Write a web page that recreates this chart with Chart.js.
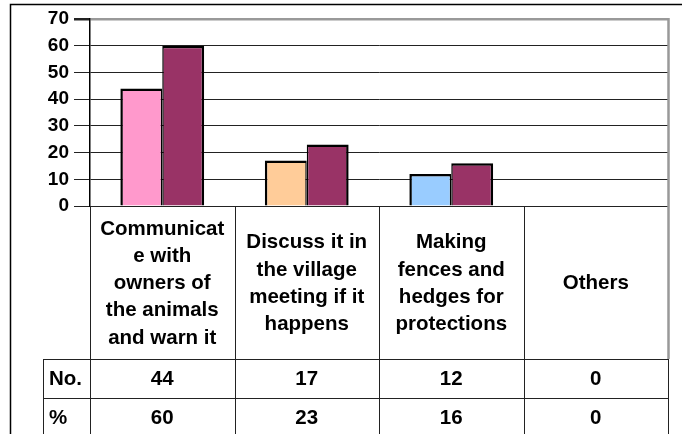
<!DOCTYPE html>
<html>
<head>
<meta charset="utf-8">
<script src="https://cdn.jsdelivr.net/npm/chart.js@4/dist/chart.umd.min.js"></script>
<style>
  html, body { margin: 0; padding: 0; background: #fff; }
  canvas { display: block; }
</style>
</head>
<body>
<canvas id="chart" width="682" height="434"></canvas>
<script>
// categories (each one split into the lines shown in its cell)
const categories = [
    ["Communicat", "e with", "owners of", "the animals", "and warn it"],
    ["Discuss it in", "the village", "meeting if it", "happens"],
    ["Making", "fences and", "hedges for", "protections"],
    ["Others"]
];
const rowNames = ["No.", "%"];
const countValues = [44, 17, 12, 0];
const percentValues = [60, 23, 16, 0];
const countColors = ["#FF99CC", "#FFCC99", "#99CCFF", "#CCFFCC"];
const percentColor = "#993366";
const yMax = 70;
const yStep = 10;

const FONT = "'Liberation Sans', Arial, sans-serif";

/* 下方資料表 + 外框 */
const tablePlugin = {
    id: "tablePlugin",
    afterDraw(chart) {
        const ctx = chart.ctx;
        const area = chart.chartArea;
        const n = categories.length;
        const w = (area.right - area.left) / n;
        const bottom = 434;
        const labelBottom = 359;
        const rowH = 39;
        const rowLeft = 43;

        ctx.save();
        // outer frame
        ctx.strokeStyle = "#000";
        ctx.lineWidth = 1.5;
        ctx.beginPath();
        ctx.moveTo(10.5, bottom);
        ctx.lineTo(10.5, 4.5);
        ctx.lineTo(682, 4.5);
        ctx.stroke();

        // right edge of plot (grey)
        ctx.strokeStyle = "#999";
        ctx.lineWidth = 2.5;
        ctx.beginPath();
        ctx.moveTo(area.right + 0.5, area.top - 1);
        ctx.lineTo(area.right + 0.5, labelBottom);
        ctx.stroke();

        // cell dividers
        ctx.strokeStyle = "#222";
        ctx.lineWidth = 1;
        for (let i = 0; i <= n; i++) {
            const x = Math.round(area.left + i * w) + 0.5;
            ctx.beginPath();
            ctx.moveTo(x, i === n ? labelBottom : area.bottom);
            ctx.lineTo(x, bottom);
            ctx.stroke();
        }
        ctx.beginPath();
        ctx.moveTo(rowLeft + 0.5, labelBottom);
        ctx.lineTo(rowLeft + 0.5, bottom);
        for (let r = 0; r < rowNames.length; r++) {
            const y = labelBottom + r * rowH + 0.5;
            ctx.moveTo(rowLeft, y);
            ctx.lineTo(area.right + 1, y);
        }
        ctx.stroke();

        // category labels
        ctx.fillStyle = "#000";
        ctx.font = "bold 20.5px " + FONT;
        ctx.textAlign = "center";
        ctx.textBaseline = "middle";
        const lineH = 27.3;
        const midY = (area.bottom + labelBottom) / 2 + 1;
        categories.forEach((lines, i) => {
            const cx = area.left + (i + 0.5) * w;
            const top = midY - (lines.length - 1) * lineH / 2;
            lines.forEach((t, j) => ctx.fillText(t, cx, top + j * lineH));
        });

        // rows
        const rows = [countValues, percentValues];
        ctx.font = "bold 20.5px " + FONT;
        rows.forEach((vals, r) => {
            const cy = labelBottom + r * rowH + rowH / 2 + 1;
            ctx.textAlign = "left";
            ctx.fillText(rowNames[r], rowLeft + 6, cy);
            ctx.textAlign = "center";
            vals.forEach((v, i) => {
                ctx.fillText(String(v), area.left + (i + 0.5) * w, cy);
            });
        });
        ctx.restore();
    }
};

const chart = new Chart(document.getElementById("chart"), {
    type: "bar",
    data: {
        labels: categories,
        datasets: [
            {
                label: "No.",
                data: countValues,
                backgroundColor: countColors,
                borderColor: "#000",
                borderWidth: { top: 2.5, left: 2.5, right: 1.5, bottom: 0 },
                categoryPercentage: 0.58,
                barPercentage: 1
            },
            {
                label: "%",
                data: percentValues,
                backgroundColor: percentColor,
                borderColor: "#000",
                borderWidth: { top: 2.5, left: 1.5, right: 2.5, bottom: 0 },
                categoryPercentage: 0.58,
                barPercentage: 1
            }
        ]
    },
    options: {
        responsive: false,
        animation: false,
        layout: { padding: { top: 19, right: 14, bottom: 228, left: 0 } },
        plugins: {
            legend: { display: false },
            tooltip: { enabled: false }
        },
        scales: {
            x: {
                afterFit: (scale) => { scale.height = 0; },
                grid: { display: false },
                border: { display: false },
                ticks: { display: false }
            },
            y: {
                min: 0,
                max: yMax,
                afterFit: (scale) => { scale.width = 90; },
                ticks: {
                    stepSize: yStep,
                    padding: 5,
                    color: "#000",
                    font: { family: FONT, size: 19, weight: "bold" }
                },
                grid: {
                    color: (c) => c.tick && c.tick.value === yMax ? "#999" : "#222",
                    lineWidth: (c) => c.tick && c.tick.value === yMax ? 2.5 : 1,
                    tickLength: 16,
                    tickColor: "#222"
                },
                border: { color: "#000", width: 1.5 }
            }
        }
    },
    plugins: [tablePlugin]
});
</script>
</body>
</html>
